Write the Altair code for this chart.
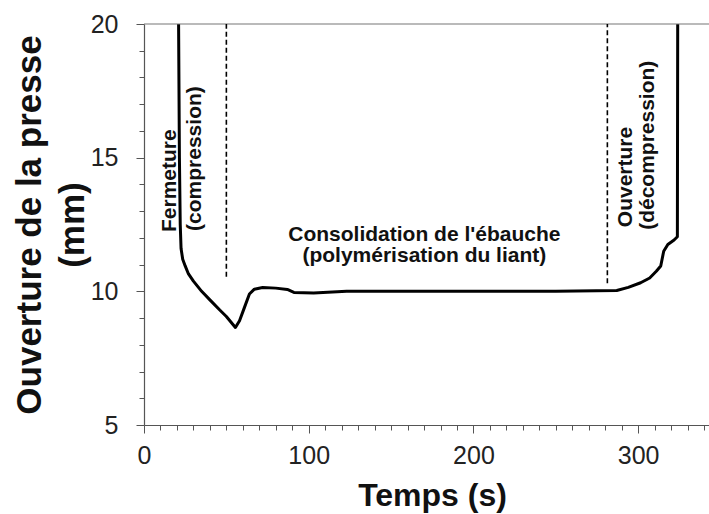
import altair as alt
import pandas as pd

# ---- data ----
time_s = [21.0, 21.5, 22.0, 22.5, 23.5, 25.0, 27.0, 30.0, 35.0, 40.0,
          46.0, 50.0, 55.5, 58.0, 61.0, 64.0, 67.0, 72.0, 80.0, 87.0,
          91.0, 103.0, 123.0, 160.0, 200.0, 250.0, 287.0, 294.0, 301.5, 307.0,
          311.0, 313.7, 315.5, 318.0, 321.8, 323.8, 324.0]
opening_mm = [20.0, 15.0, 12.5, 11.6, 11.2, 10.95, 10.65, 10.38, 10.0, 9.68,
              9.3, 9.06, 8.65, 8.9, 9.4, 9.9, 10.08, 10.14, 10.12, 10.07,
              9.96, 9.94, 10.0, 10.0, 10.0, 10.0, 10.03, 10.15, 10.32, 10.5,
              10.75, 10.95, 11.5, 11.75, 11.92, 12.04, 20.0]

# phase separators (dashed)
sep_t = [50.0, 281.3]
sep_from = [10.55, 10.3]
sep_to = [20.0, 20.0]

# vertical phase labels
vlab_text = ["Fermeture", "(compression)", "Ouverture", "(décompression)"]
vlab_t = [19.5, 34.8, 296.3, 309.4]
vlab_v = [12.22, 12.26, 12.4, 12.3]

# horizontal phase label
hlab_text = ["Consolidation de l'ébauche", "(polymérisation du liant)"]
hlab_t = [170.2, 170.2]
hlab_v = [11.88, 11.10]

top_v = [20.0]

x_ticks = list(range(0, 341, 10))
y_ticks = list(range(5, 21))

FONT = "Liberation Sans"

curve = pd.DataFrame({"t": time_s, "v": opening_mm, "idx": range(len(time_s))})
seps = pd.DataFrame({"t": sep_t, "v": sep_from, "v2": sep_to})
vlabs = pd.DataFrame({"text": vlab_text, "t": vlab_t, "v": vlab_v})
hlabs = pd.DataFrame({"text": hlab_text, "t": hlab_t, "v": hlab_v})
tops = pd.DataFrame({"v": top_v})

xscale = alt.Scale(domain=[0, 343], nice=False, zero=False)
yscale = alt.Scale(domain=[5, 20], nice=False, zero=False)

x_axis = alt.Axis(
    values=x_ticks,
    labelExpr="datum.value % 100 === 0 ? datum.label : ''",
    grid=False,
    tickSize={"condition": {"test": "datum.value % 100 === 0", "value": 8}, "value": 5},
    tickColor="#555", tickWidth=1,
    domainColor="#555", domainWidth=1.2,
    labelFont=FONT, labelFontSize=25, labelColor="#222",
    labelFlush=False, labelOverlap=False, labelPadding=10,
    title="Temps (s)", titleFont=FONT, titleFontSize=32, titleFontWeight="bold",
    titleColor="#111", titleX=288, titleY=80, titleAlign="center",
    titleBaseline="alphabetic",
)
y_axis = alt.Axis(
    values=y_ticks,
    labelExpr="datum.value % 5 === 0 ? datum.label : ''",
    grid=False,
    tickSize={"condition": {"test": "datum.value % 5 === 0", "value": 8}, "value": 5},
    tickColor="#555", tickWidth=1,
    domainColor="#555", domainWidth=1.2,
    labelFont=FONT, labelFontSize=25, labelColor="#222",
    labelOverlap=False, labelPadding=18,
    title=["Ouverture de la presse", "(mm)"], titleFont=FONT, titleFontSize=35,
    titleFontWeight="bold", titleColor="#111", titleAngle=270,
    titleX=-104, titleY=200.5, titleAlign="center", titleBaseline="alphabetic",
    titleLineHeight=43,
)

X = alt.X("t:Q", scale=xscale, axis=x_axis)
Y = alt.Y("v:Q", scale=yscale, axis=y_axis)

line = alt.Chart(curve).mark_line(color="black", strokeWidth=3, strokeJoin="round").encode(
    x=X, y=Y, order="idx:Q",
)

top_rule = alt.Chart(tops).mark_rule(color="#777", strokeWidth=1.2).encode(y=Y)

dashed = alt.Chart(seps).mark_rule(color="black", strokeWidth=1.6, strokeDash=[5, 3]).encode(
    x=X, y=Y, y2="v2:Q",
)

vtext = alt.Chart(vlabs).mark_text(
    angle=270, align="left", baseline="alphabetic", font=FONT, fontSize=21,
    fontWeight="bold", color="#111"
).encode(x=X, y=Y, text="text:N")

htext = alt.Chart(hlabs).mark_text(
    align="center", baseline="alphabetic", font=FONT, fontSize=21,
    fontWeight="bold", color="#111"
).encode(x=X, y=Y, text="text:N")

chart = alt.layer(line, top_rule, dashed, vtext, htext).properties(
    width=565, height=401,
    autosize="none",
    padding={"left": 144, "top": 24, "right": 0, "bottom": 89},
    background="white",
).configure_view(stroke=None)

chart.save("out.html", embed_options={"renderer": "svg", "actions": False})
